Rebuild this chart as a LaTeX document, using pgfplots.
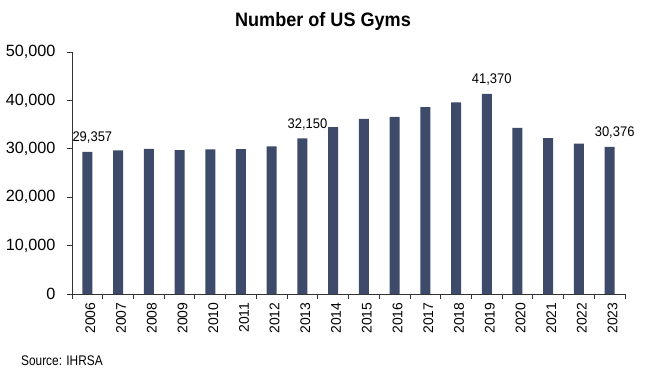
\documentclass[border=0pt]{standalone}
\usepackage{fontspec}
\setmainfont{Liberation Sans}
\usepackage{graphicx}
\usepackage{pgfplots}
\pgfplotsset{compat=1.18}
\definecolor{barcol}{HTML}{3E4A6A}
\begin{document}
\begin{tikzpicture}[x=1bp,y=1bp]
\useasboundingbox (-72bp,-74bp) rectangle (573bp,294bp);
\begin{axis}[
  at={(0,0)}, anchor=south west,
  scale only axis, width=553bp, height=242bp,
  xmin=-0.5, xmax=17.5, ymin=0, ymax=50000,
  axis x line*=bottom, axis y line*=left,
  axis line style={-, black!80, line width=0.8bp},
  tick align=outside,
  major tick length=5bp, minor tick length=5bp,
  tick style={black!80, line width=0.8bp},
  xtick={0,...,17},
  xticklabels={2006,2007,2008,2009,2010,2011,2012,2013,2014,2015,2016,2017,2018,2019,2020,2021,2022,2023},
  major x tick style={draw=none},
  minor xtick={-0.5,0.5,...,17.5},
  ytick={0,10000,20000,30000,40000,50000},
  scaled y ticks=false,
  /pgf/number format/.cd, 1000 sep={,}, assume math mode=true, /pgfplots/.cd,
  xticklabel style={rotate=90, anchor=east, yshift=-3bp, font=\fontsize{14}{16}\selectfont},
  yticklabel style={xshift=-8bp, font=\fontsize{16.3}{18}\selectfont},
  clip=false,
]
\addplot[ybar, bar width=10bp, fill=barcol, draw=none] coordinates {
(0,29357) (1,29670) (2,30000) (3,29750) (4,29900) (5,29950) (6,30500) (7,32150) (8,34500)
(9,36200) (10,36600) (11,38600) (12,39600) (13,41370) (14,34300) (15,32200) (16,31050) (17,30376)
};
\addplot[draw=none, mark=none, nodes near coords={\scalebox{0.93}[1]{\pgfplotspointmeta}}, point meta=explicit symbolic,
  every node near coord/.style={font=\fontsize{14}{16}\selectfont, anchor=base, xshift=5bp, yshift=10bp, inner sep=0pt}]
  coordinates {(0,29357) [29,357] (7,32150) [32,150] (13,41370) [41,370] (17,30376) [30,376]};
\end{axis}
\node[anchor=base, inner sep=0pt] at (251bp,267bp) {\scalebox{0.93}[1]{\fontsize{19.5}{22}\selectfont\bfseries Number of US Gyms}};
\node[anchor=base west, inner sep=0pt] at (-51bp,-71bp) {\scalebox{0.85}[1]{\fontsize{14}{16}\selectfont Source: IHRSA}};
\end{tikzpicture}
\end{document}
